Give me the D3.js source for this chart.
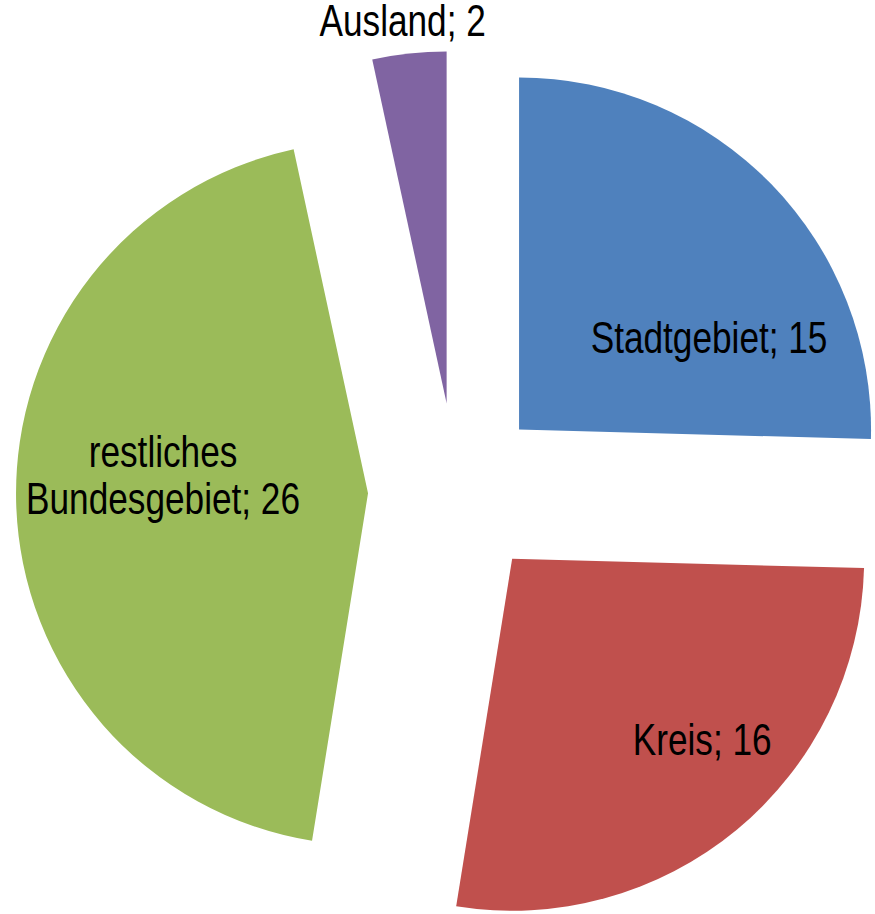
<!DOCTYPE html>
<html>
<head>
<meta charset="utf-8">
<script src="https://cdn.jsdelivr.net/npm/d3@7"></script>
<style>
  body { margin: 0; background: #fff; }
  text { font-family: "Liberation Sans Narrow", "Arial Narrow", "Liberation Sans", sans-serif; fill: #000; }
</style>
</head>
<body>
<div class="pie"></div>
<script>
const CATEGORIES = ["Stadtgebiet", "Kreis", "restliches Bundesgebiet", "Ausland"]
const VALUES = [15, 16, 26, 2]
const COLORS = ["#4F81BD", "#C0504D", "#9BBB59", "#8064A2"]

const WIDTH = 875;
const HEIGHT = 914;
const CENTER = [456, 491];
const RADIUS = 352;
const EXPLODE = 88;
const FONT_SIZE = 44;
const LINE_HEIGHT = 47;
const NARROW = 0.8; // no narrow font installed, squeeze horizontally
// label baseline offsets from each exploded slice's tip
const LABEL_OFFSETS = [[190, -77], [190, 196], [-205, -26], [-44, -367]];
const LABEL_LINES = [["Stadtgebiet; 15"], ["Kreis; 16"], ["restliches", "Bundesgebiet; 26"], ["Ausland; 2"]];

const data = CATEGORIES.map((c, i) => ({ name: c, value: VALUES[i], color: COLORS[i] }));

const svg = d3.select(".pie").append("svg").attr("width", WIDTH).attr("height", HEIGHT);

const pie = d3.pie().value(d => d.value).sort(null);
const arc = d3.arc().innerRadius(0).outerRadius(RADIUS);
const arcs = pie(data);

// exploded slice tip
const tip = d => {
  const a = (d.startAngle + d.endAngle) / 2;
  return [CENTER[0] + EXPLODE * Math.sin(a), CENTER[1] - EXPLODE * Math.cos(a)];
};

const slices = svg.selectAll("g.slice").data(arcs).enter().append("g")
  .attr("class", "slice")
  .attr("transform", d => `translate(${tip(d)})`);

slices.append("path")
  .attr("d", arc)
  .attr("fill", d => d.data.color);

// Labels
arcs.forEach((d, i) => {
  const [x, y] = tip(d);
  const t = svg.append("text")
    .attr("text-anchor", "middle")
    .attr("font-size", FONT_SIZE)
    .attr("transform", `translate(${x + LABEL_OFFSETS[i][0]}, ${y + LABEL_OFFSETS[i][1]}) scale(${NARROW}, 1)`);
  LABEL_LINES[i].forEach((line, j) => {
    t.append("tspan")
      .attr("x", 0)
      .attr("y", j * LINE_HEIGHT)
      .text(line);
  });
});
</script>
</body>
</html>
